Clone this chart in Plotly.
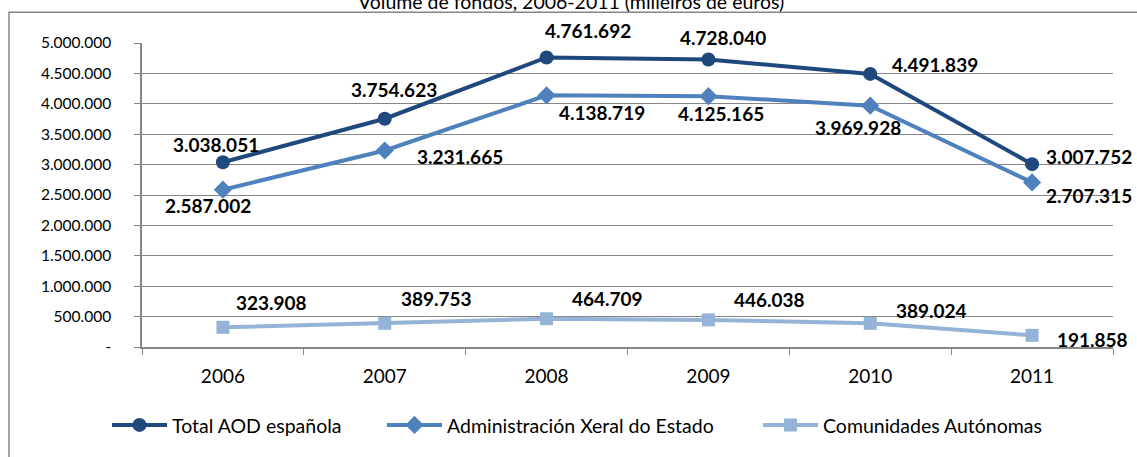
import plotly.graph_objects as go

years = ["2006", "2007", "2008", "2009", "2010", "2011"]
total_aod = [3038051, 3754623, 4761692, 4728040, 4491839, 3007752]
admin_estado = [2587002, 3231665, 4138719, 4125165, 3969928, 2707315]
comunidades = [323908, 389753, 464709, 446038, 389024, 191858]

ytick_vals = [0, 500000, 1000000, 1500000, 2000000, 2500000, 3000000,
              3500000, 4000000, 4500000, 5000000]
ytick_text = ["-", "500.000", "1.000.000", "1.500.000", "2.000.000", "2.500.000",
              "3.000.000", "3.500.000", "4.000.000", "4.500.000", "5.000.000"]

title_text = "Volume de fondos, 2006-2011 (milleiros de euros)"

FONT = "Lato"
GRID = "#868686"

# label offsets in px (dx, dy up) per series, placed like the Excel labels
shift_total = [(-7, 18), (9, 29), (41, 27), (15, 22), (65, 9), (57, 8)]
shift_admin = [(-15, -16), (75, -6), (55, -17), (13, -17), (-12, -22), (57, -13)]
shift_ccaa = [(49, 25), (52, 25), (61, 20), (61, 20), (61, 13), (60, -4)]


def fmt(v):
    return f"{v:,}".replace(",", ".")


def px_x(p):
    return (p - 142) / 971


def px_y(p):
    return (350 - p) / 307


series = [
    ("Total AOD española", total_aod, "#1F497D", "circle", 14, shift_total, "legend", 107),
    ("Administración Xeral do Estado", admin_estado, "#4F81BD", "diamond", 14, shift_admin, "legend2", 382),
    ("Comunidades Autónomas", comunidades, "#95B3D7", "square", 13, shift_ccaa, "legend3", 758),
]

fig = go.Figure()
annotations = []
legends = {}
for name, vals, color, symbol, msize, shifts, leg, leg_x in series:
    fig.add_trace(go.Scatter(
        x=years, y=vals, name=name, mode="lines+markers",
        line=dict(color=color, width=4),
        marker=dict(symbol=symbol, size=msize, color=color),
        cliponaxis=False, legend=leg,
    ))
    legends[leg] = dict(
        orientation="h", x=px_x(leg_x), y=px_y(429),
        xanchor="left", yanchor="middle",
        font=dict(family=FONT, size=19.5, color="#000000"),
        itemwidth=55, bgcolor="rgba(0,0,0,0)",
    )
    # category axis: annotations use the category index
    for i, (v, (dx, dy)) in enumerate(zip(vals, shifts)):
        annotations.append(dict(
            x=i, y=v, xref="x", yref="y", text="<b>" + fmt(v) + "</b>",
            showarrow=False, xshift=dx, yshift=dy,
            font=dict(family=FONT, size=19, color="#000000"),
        ))

annotations.append(dict(
    x=px_x(356), y=px_y(1), xref="paper", yref="paper",
    xanchor="left", yanchor="middle", text=title_text, showarrow=False,
    font=dict(family=FONT, size=19.5, color="#000000"),
))

fig.update_layout(
    width=1137, height=457,
    margin=dict(l=142, r=24, t=43, b=107),
    paper_bgcolor="white", plot_bgcolor="white",
    font=dict(family=FONT, size=17, color="#000000"),
    annotations=annotations,
    showlegend=True,
    shapes=[dict(
        type="rect", xref="paper", yref="paper",
        x0=px_x(9), x1=px_x(1145), y0=px_y(470), y1=px_y(12),
        line=dict(color=GRID, width=1.5), layer="below",
    )],
    **legends,
)

fig.update_xaxes(
    type="category", range=[-0.5, 5.5], showgrid=False,
    showline=True, linecolor=GRID, linewidth=1.5,
    ticks="outside", tickson="boundaries", ticklen=6, tickcolor=GRID,
    ticklabelstandoff=11, tickfont=dict(family=FONT, size=19),
    automargin=False,
)
fig.update_yaxes(
    range=[0, 5000000], tickvals=ytick_vals, ticktext=ytick_text,
    showgrid=True, gridcolor=GRID, gridwidth=1,
    showline=True, linecolor=GRID, linewidth=1.5,
    ticks="outside", ticklen=6, tickcolor=GRID,
    ticklabelstandoff=20, tickfont=dict(family=FONT, size=15.5),
    zeroline=False, automargin=False,
)

# the page body has an 8px default margin; drop it so the chart sits at 0,0
fig.write_html(
    "out.html",
    config={"displayModeBar": False},
    post_script="document.body.style.margin='0';",
)
